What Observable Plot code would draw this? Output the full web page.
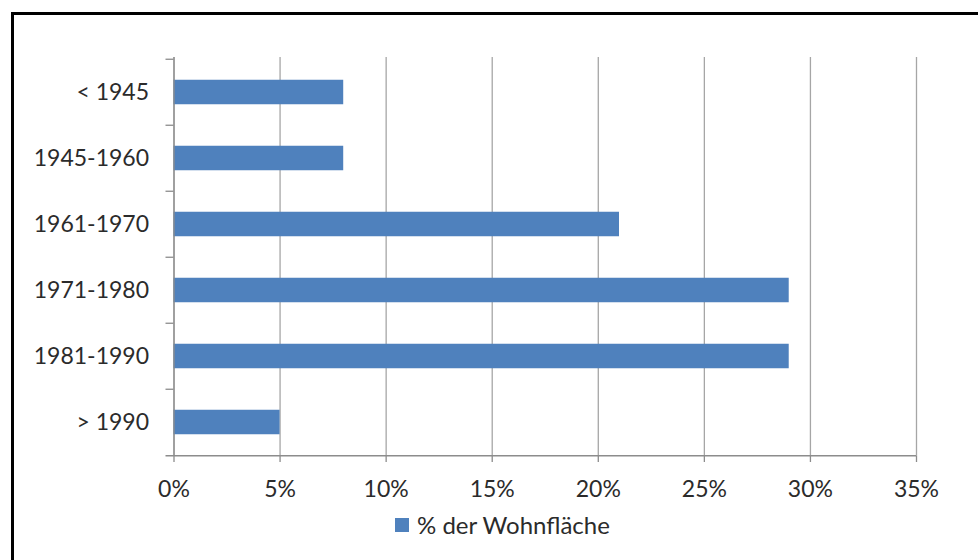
<!DOCTYPE html>
<html>
<head>
<meta charset="utf-8">
<script src="https://cdn.jsdelivr.net/npm/d3@7"></script>
<script src="https://cdn.jsdelivr.net/npm/@observablehq/plot@0.6"></script>
<style>
  html, body { margin: 0; padding: 0; background: #fff; overflow: hidden; }
  #wrap { position: relative; width: 978px; height: 560px; font-family: Lato, "Open Sans", sans-serif; }
  #frame { position: absolute; left: 11px; top: 12px; width: 1000px; height: 600px; border: 3px solid #000; box-sizing: border-box; }
  #chart { position: absolute; left: 0; top: 0; }
  #chart svg { overflow: visible; }
  #legend { position: absolute; left: 395px; top: 510px; display: flex; align-items: center; font-size: 24px; color: #2b2b2b; }
  #legend .sw { width: 14px; height: 14px; background: #4F81BD; margin-right: 8px; }
</style>
</head>
<body>
<div id="wrap">
  <div id="frame"></div>
  <div id="chart"></div>
  <div id="legend"><div class="sw"></div><span id="legendText"></span></div>
</div>
<script>
const categories = ["< 1945", "1945-1960", "1961-1970", "1971-1980", "1981-1990", "> 1990"];
const values = [0.08, 0.08, 0.21, 0.29, 0.29, 0.05];
const xTicks = [0, 0.05, 0.10, 0.15, 0.20, 0.25, 0.30, 0.35];
const seriesName = "% der Wohnfläche";

const data = categories.map((c, i) => ({category: c, value: values[i]}));

const W = 978, H = 505, mTop = 57, mBottom = 49, mLeft = 173.5, mRight = 62;
const step = (H - mTop - mBottom) / categories.length;
const barH = 25;
const inset = (step - barH) / 2;
const gridColor = "#a6a6a6";
const axisColor = "#8c8c8c";

const chart = Plot.plot({
  width: W,
  height: H,
  marginTop: mTop,
  marginBottom: mBottom,
  marginLeft: mLeft,
  marginRight: mRight,
  style: {fontFamily: "Lato, 'Open Sans', sans-serif", fontSize: "23px", color: "#2b2b2b", background: "transparent", overflow: "visible"},
  x: {domain: [0, 0.35]},
  y: {domain: categories, padding: 0},
  marks: [
    Plot.ruleX(xTicks, {stroke: gridColor, strokeWidth: 1.3}),
    Plot.barX(data, {y: "category", x: "value", fill: "#4F81BD", insetTop: inset, insetBottom: inset}),
    Plot.ruleX([0], {stroke: axisColor, strokeWidth: 1.3}),
    Plot.ruleY(categories, {y: d => d, x1: 0, x2: 0, insetLeft: -8, dy: -step / 2, stroke: axisColor, strokeWidth: 1.3}),
    Plot.ruleY([categories[categories.length - 1]], {y: d => d, x1: 0, x2: 0.35, insetLeft: -8, dy: step / 2, stroke: axisColor, strokeWidth: 1.3}),
    Plot.axisX({ticks: xTicks, tickFormat: d3.format(".0%"), tickSize: 6, tickPadding: 18, stroke: axisColor, strokeWidth: 1.3, label: null, fill: "#2b2b2b"}),
    Plot.axisY({tickSize: 0, tickPadding: 25, label: null, fill: "#2b2b2b"})
  ]
});
document.getElementById("chart").appendChild(chart);
document.getElementById("legendText").textContent = seriesName;
</script>
</body>
</html>
